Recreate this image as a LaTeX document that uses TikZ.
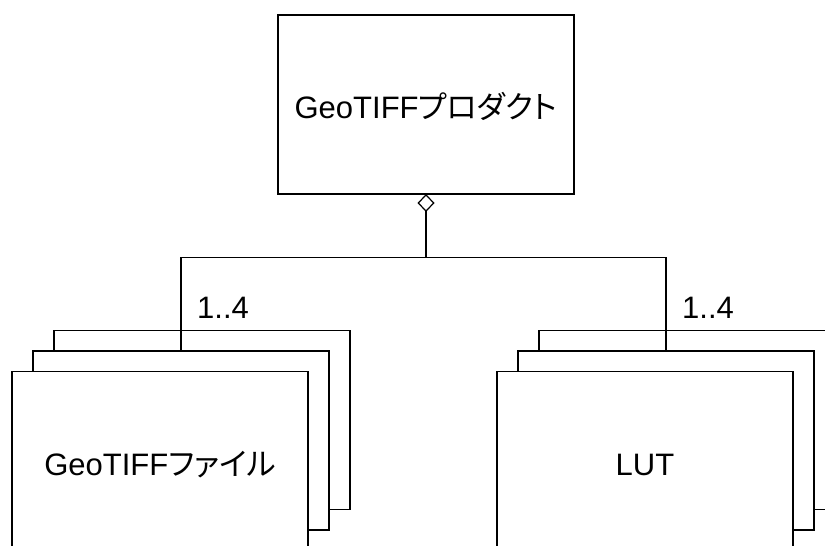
\documentclass[tikz,border=0pt]{standalone}
\usepackage{fontspec}
\setmainfont{Liberation Sans}
\newfontfamily\jpfont[RawFeature=+palt]{Noto Sans CJK JP}
\usetikzlibrary{arrows.meta,positioning,shapes.geometric}
\tikzstyle{block} = [rectangle, draw, fill=white, line width=1.2pt, outer sep=0pt,
  minimum width=296pt, minimum height=179pt, inner sep=0pt,
  text height=29pt, text depth=1pt, font=\fontsize{31}{37}\selectfont]
\tikzstyle{line} = [draw, line width=1.2pt, color=black]
\tikzstyle{mult} = [font=\fontsize{31}{37}\selectfont, inner sep=0pt]

\begin{document}
\begin{tikzpicture}[x=1pt, y=-1pt]
  \useasboundingbox (0,0) rectangle (825,546);
  \def\dx{21}; \def\dy{20.5};
  \node [block] (product) at (426,104.5) {GeoTIFF{\jpfont プロダクト}};

  % stacked files
  \node [block] (filesback) at (181+\dx,440.5-\dy) {};
  \node [block] (filesmid) at (181,440.5) {};
  \node [block] (files) at (181-\dx,440.5+\dy) {GeoTIFF{\jpfont ファイル}};

  % stacked LUTs
  \node [block] (lutback) at (666+\dx,440.5-\dy) {};
  \node [block] (lutmid) at (666,440.5) {};
  \node [block] (lut) at (666-\dx,440.5+\dy) {LUT};

  \coordinate (junction) at (product.south |- 0,257.5);
  \path [line, {Diamond[open,length=18pt,width=17pt]}-] (product.south) -- (junction);
  \path [line] (filesmid.north) |- (junction) -| (lutmid.north);

  \node [mult, anchor=base west] (filesmult) at (197,318) {1..4};
  \node [mult, anchor=base west] (lutmult) at (682,318) {1..4};
\end{tikzpicture}
\end{document}
